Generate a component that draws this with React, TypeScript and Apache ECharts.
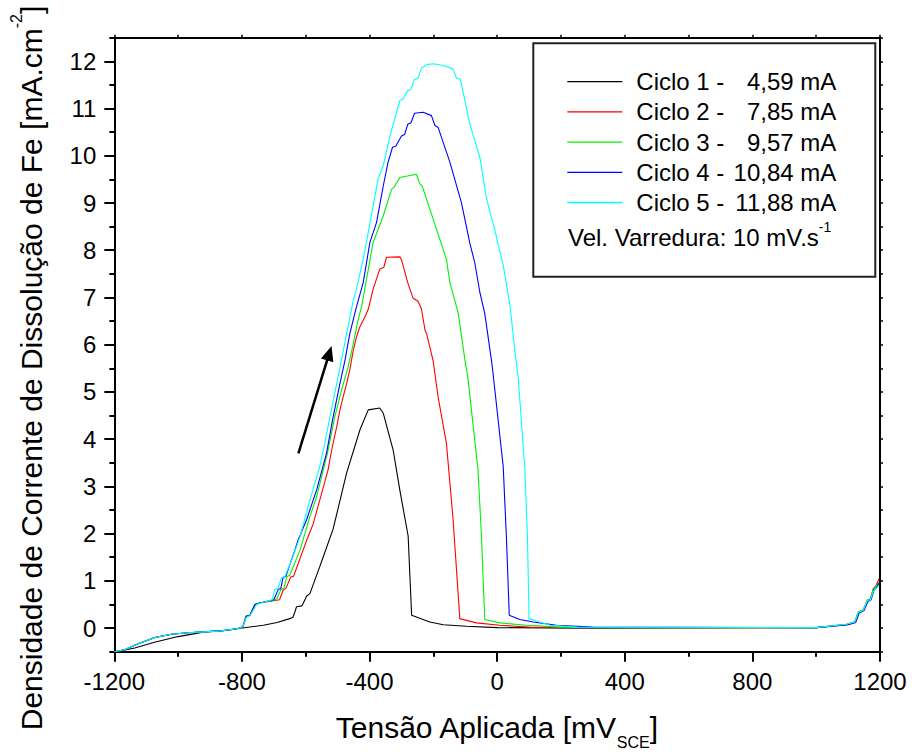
import React, { useEffect, useRef } from "react";
import * as echarts from "echarts";

const seriesNames = ["Ciclo 1", "Ciclo 2", "Ciclo 3", "Ciclo 4", "Ciclo 5"];
const peakLabels = ["4,59 mA", "7,85 mA", "9,57 mA", "10,84 mA", "11,88 mA"];
const colors = ["#000000", "#ff0000", "#00f000", "#0000ff", "#00ffff"];

const xMajorTicks = [-1200, -800, -400, 0, 400, 800, 1200];
const yMajorTicks = [0, 1, 2, 3, 4, 5, 6, 7, 8, 9, 10, 11, 12];
const yMinorTicks = [-0.5, 0.5, 1.5, 2.5, 3.5, 4.5, 5.5, 6.5, 7.5, 8.5, 9.5, 10.5, 11.5, 12.5];

const arrowFrom = [-623, 3.7];
const arrowTo = [-526, 5.82];

const lowBranch = [
  [-1200, -0.5], [-1168, -0.46], [-1125, -0.33], [-1073, -0.2], [-1021, -0.13],
  [-969, -0.1], [-917, -0.08], [-864, -0.06], [-812, -0.01], [-800, 0.02],
];

const ciclo1 = [
  [-1200, -0.5], [-1170, -0.47], [-1136, -0.42], [-1074, -0.3], [-1000, -0.18], [-917, -0.08],
  [-838, -0.04], [-812, -0.01], [-733, 0.06], [-690, 0.12], [-650, 0.2], [-640, 0.23],
  [-634, 0.34], [-629, 0.45], [-612, 0.47], [-597, 0.68], [-587, 0.73], [-556, 1.3],
  [-545, 1.51], [-514, 2.1], [-472, 3.28], [-430, 4.2], [-404, 4.62], [-368, 4.66],
  [-357, 4.55], [-326, 3.77], [-305, 2.92], [-279, 1.95], [-268, 0.27], [-211, 0.13],
  [-169, 0.07], [-96, 0.04], [0, 0.01], [300, 0], [1000, 0.01], [1095, 0.07], [1121, 0.12],
  [1132, 0.33], [1148, 0.38], [1160, 0.58], [1170, 0.61], [1179, 0.8], [1187, 0.86], [1196, 0.97],
];

const ciclo2 = [
  ...lowBranch,
  [-796, 0.04], [-788, 0.25], [-775, 0.27], [-759, 0.5], [-745, 0.53], [-682, 0.6], [-671, 0.8],
  [-662, 0.84], [-647, 1.08], [-638, 1.1], [-597, 1.86], [-577, 2.2], [-556, 2.71], [-530, 3.35],
  [-519, 3.76], [-503, 4.26], [-493, 4.61], [-483, 4.89], [-472, 5.17], [-462, 5.46], [-451, 5.88],
  [-441, 6.16], [-431, 6.37], [-415, 6.58], [-404, 6.75], [-389, 7.17], [-368, 7.6], [-355, 7.64],
  [-347, 7.85], [-305, 7.86], [-300, 7.8], [-280, 7.31], [-264, 6.99], [-248, 6.92], [-237, 6.75],
  [-226, 6.3], [-221, 6.23], [-201, 5.67], [-185, 4.89], [-159, 3.91], [-138, 2.29], [-117, 0.2],
  [-65, 0.11], [8, 0.06], [100, 0.02], [200, 0.01], [1000, 0.01], [1095, 0.08], [1121, 0.13],
  [1132, 0.34], [1148, 0.39], [1160, 0.59], [1170, 0.62], [1179, 0.84], [1187, 0.89], [1197, 1.05],
];

const ciclo3 = [
  ...lowBranch,
  [-796, 0.05], [-786, 0.25], [-775, 0.27], [-759, 0.5], [-745, 0.53], [-700, 0.59], [-690, 0.62],
  [-678, 0.82], [-668, 0.84], [-660, 1.08], [-650, 1.12], [-618, 1.65], [-587, 2.36], [-566, 2.78],
  [-530, 3.76], [-509, 4.47], [-488, 5.03], [-467, 5.53], [-451, 6.02], [-436, 6.52], [-425, 6.8],
  [-404, 7.59], [-389, 8.16], [-357, 8.73], [-331, 9.29], [-324, 9.33], [-305, 9.54], [-253, 9.61],
  [-242, 9.4], [-235, 9.36], [-211, 8.87], [-159, 7.81], [-148, 7.31], [-122, 6.67], [-101, 5.68],
  [-91, 5.26], [-60, 3.35], [-49, 1.93], [-39, 0.18], [8, 0.11], [92, 0.06], [200, 0.02],
  [300, 0.01], [1000, 0.01], [1095, 0.08], [1121, 0.13], [1132, 0.34], [1148, 0.39], [1160, 0.59],
  [1170, 0.62], [1179, 0.82], [1187, 0.87], [1197, 0.98],
];

const ciclo4 = [
  ...lowBranch,
  [-796, 0.05], [-786, 0.25], [-775, 0.27], [-759, 0.5], [-745, 0.53], [-700, 0.6], [-686, 0.82],
  [-678, 0.84], [-671, 1.07], [-662, 1.1], [-634, 1.65], [-624, 1.86], [-597, 2.3], [-566, 2.92],
  [-535, 3.7], [-514, 4.47], [-493, 5.17], [-477, 5.67], [-462, 6.23], [-441, 6.8], [-420, 7.31],
  [-399, 8.16], [-378, 8.59], [-357, 9.36], [-342, 9.86], [-328, 10.18], [-318, 10.2], [-300, 10.42],
  [-290, 10.45], [-280, 10.67], [-270, 10.7], [-259, 10.9], [-232, 10.92], [-206, 10.85],
  [-195, 10.64], [-185, 10.6], [-148, 9.86], [-112, 9.01], [-86, 8.16], [-70, 7.73], [-54, 7.1],
  [-39, 6.67], [-18, 5.68], [-13, 5.4], [19, 3.42], [29, 1.93], [38, 0.27], [71, 0.18], [113, 0.13],
  [186, 0.06], [300, 0.02], [1000, 0.01], [1100, 0.07], [1124, 0.12], [1135, 0.32], [1150, 0.37],
  [1162, 0.56], [1172, 0.6], [1181, 0.8], [1189, 0.85], [1197, 0.95],
];

const ciclo5 = [
  ...lowBranch,
  [-796, 0.05], [-786, 0.23], [-775, 0.26], [-754, 0.5], [-740, 0.53], [-705, 0.6], [-697, 0.82],
  [-687, 0.84], [-676, 1.07], [-666, 1.08], [-644, 1.44], [-618, 1.93], [-587, 2.71], [-556, 3.42],
  [-545, 3.76], [-524, 4.47], [-503, 5.17], [-488, 5.67], [-472, 6.23], [-451, 6.94], [-441, 7.17],
  [-420, 7.81], [-410, 8.16], [-373, 9.51], [-357, 9.79], [-336, 10.42], [-305, 11.17], [-295, 11.2],
  [-280, 11.38], [-270, 11.4], [-260, 11.61], [-248, 11.64], [-237, 11.86], [-220, 11.93],
  [-201, 11.95], [-169, 11.91], [-138, 11.84], [-127, 11.64], [-115, 11.62], [-86, 10.68],
  [-54, 9.96], [-33, 9.08], [-10, 8.5], [19, 7.68], [40, 6.85], [55, 5.9], [66, 5.3], [87, 3.35],
  [95, 1.93], [100, 0.2], [124, 0.15], [165, 0.06], [250, 0.02], [1000, 0.01], [1095, 0.08],
  [1121, 0.13], [1132, 0.33], [1148, 0.38], [1160, 0.58], [1170, 0.6], [1179, 0.78], [1187, 0.84],
  [1197, 0.9],
];

const seriesData = [ciclo1, ciclo2, ciclo3, ciclo4, ciclo5];

const FONT = "'Liberation Sans', Arial, sans-serif";

export default function App() {
  const ref = useRef<HTMLDivElement>(null);

  useEffect(() => {
    document.body.style.margin = "0";
    if (!ref.current) return;
    const chart = echarts.init(ref.current, null, { renderer: "svg" });

    const gridPos = { left: 114.3, right: 32, top: 37.7, bottom: 104.3 };
    const axisLineStyle = { color: "#000", width: 2 };
    const plain = (v: number) => String(v);

    const series: any[] = seriesNames.map((name, i) => ({
      name,
      type: "line",
      xAxisIndex: 0,
      yAxisIndex: 0,
      data: seriesData[i],
      symbol: "none",
      showSymbol: false,
      lineStyle: { color: colors[i], width: 1.1 },
      itemStyle: { color: colors[i] },
      z: 2 + i,
    }));
    series[0].markLine = {
      silent: true,
      symbol: ["none", "triangle"],
      symbolSize: [13, 15],
      lineStyle: { color: "#000", width: 2.5, type: "solid" },
      label: { show: false },
      data: [[{ coord: arrowFrom }, { coord: arrowTo }]],
    };

    chart.setOption({
      animation: false,
      textStyle: { fontFamily: FONT },
      grid: [
        { ...gridPos, containLabel: false },
        { ...gridPos, containLabel: false },
      ],
      xAxis: [
        {
          gridIndex: 0,
          type: "value",
          position: "bottom",
          min: -1200,
          max: 1200,
          interval: 400,
          axisLine: { show: true, onZero: false, lineStyle: axisLineStyle },
          axisTick: { show: true, length: 10, inside: false, lineStyle: { color: "#000", width: 2 } },
          minorTick: { show: true, splitNumber: 2, length: 5, lineStyle: { color: "#000", width: 2 } },
          axisLabel: {
            show: true,
            customValues: xMajorTicks,
            formatter: plain,
            fontSize: 24,
            color: "#000",
            margin: 18,
            fontFamily: FONT,
          },
          splitLine: { show: false },
          minorSplitLine: { show: false },
        },
        {
          gridIndex: 0,
          type: "value",
          position: "top",
          min: -1200,
          max: 1200,
          interval: 200,
          axisLine: { show: true, onZero: false, lineStyle: axisLineStyle },
          axisTick: { show: true, length: 3, inside: false, lineStyle: { color: "#000", width: 1.5 } },
          axisLabel: { show: false },
          splitLine: { show: false },
        },
        {
          gridIndex: 1,
          type: "value",
          min: -1200,
          max: 1200,
          show: false,
        },
      ],
      yAxis: [
        {
          gridIndex: 0,
          type: "value",
          position: "left",
          min: -0.5,
          max: 12.5,
          axisLine: { show: true, onZero: false, lineStyle: axisLineStyle },
          axisTick: { show: true, customValues: yMajorTicks, length: 10, inside: false, lineStyle: { color: "#000", width: 2 } },
          axisLabel: {
            show: true,
            customValues: yMajorTicks,
            formatter: plain,
            fontSize: 24,
            color: "#000",
            margin: 18,
            fontFamily: FONT,
          },
          splitLine: { show: false },
        },
        {
          gridIndex: 0,
          type: "value",
          position: "right",
          min: -0.5,
          max: 12.5,
          axisLine: { show: true, onZero: false, lineStyle: axisLineStyle },
          axisTick: {
            show: true,
            customValues: [...yMajorTicks, ...yMinorTicks],
            length: 3,
            inside: false,
            lineStyle: { color: "#000", width: 1.5 },
          },
          axisLabel: { show: false },
          splitLine: { show: false },
        },
        {
          gridIndex: 1,
          type: "value",
          position: "left",
          min: -0.5,
          max: 12.5,
          axisLine: { show: false, onZero: false },
          axisTick: { show: true, customValues: yMinorTicks, length: 5, inside: false, lineStyle: { color: "#000", width: 2 } },
          axisLabel: { show: false },
          splitLine: { show: false },
        },
      ],
      legend: {
        orient: "vertical",
        left: 567.3,
        top: 66.7,
        padding: 0,
        itemGap: 0.2,
        itemWidth: 55,
        itemHeight: 1.3,
        icon: "rect",
        selectedMode: false,
        data: seriesNames,
        formatter: (name: string) => {
          const i = seriesNames.indexOf(name);
          return `{s| }{n|${name} -}{v|${peakLabels[i]}}`;
        },
        textStyle: {
          fontSize: 24,
          color: "#000",
          fontFamily: FONT,
          lineHeight: 30,
          rich: {
            s: { width: 9, fontSize: 24, lineHeight: 30 },
            n: { width: 95, fontSize: 24, lineHeight: 30, color: "#000", fontFamily: FONT },
            v: { width: 105, align: "right", fontSize: 24, lineHeight: 30, color: "#000", fontFamily: FONT },
          },
        },
      },
      graphic: [
        {
          type: "rect",
          shape: { x: 533.3, y: 43.3, width: 342, height: 233.4 },
          style: { fill: "none", stroke: "#222", lineWidth: 2 },
          z: 10,
        },
        {
          type: "text",
          x: 568,
          y: 237,
          style: {
            text: "Vel. Varredura: 10 mV.s{sup|-1}",
            font: `24px ${FONT}`,
            fill: "#000",
            textVerticalAlign: "middle",
            rich: {
              sup: { fontSize: 14, verticalAlign: "top", lineHeight: 34, fill: "#000" },
            },
            lineHeight: 34,
          },
          z: 10,
        },
        {
          type: "text",
          x: 496.5,
          y: 727,
          style: {
            text: "Tensão Aplicada [mV{sub|SCE}]",
            font: `30px ${FONT}`,
            fill: "#000",
            textAlign: "center",
            textVerticalAlign: "middle",
            lineHeight: 46,
            rich: {
              sub: { fontSize: 16, verticalAlign: "bottom", fill: "#000" },
            },
          },
        },
        {
          type: "text",
          x: 31,
          y: 368,
          rotation: Math.PI / 2,
          style: {
            text: "Densidade de Corrente de Dissolução de Fe [mA.cm{sup|-2}]",
            font: `30px ${FONT}`,
            fill: "#000",
            textAlign: "center",
            textVerticalAlign: "middle",
            lineHeight: 46,
            rich: {
              sup: { fontSize: 16, verticalAlign: "top", fill: "#000" },
            },
          },
        },
      ],
      series,
    });

    return () => {
      chart.dispose();
    };
  }, []);

  return <div ref={ref} style={{ width: 912, height: 756 }} />;
}
